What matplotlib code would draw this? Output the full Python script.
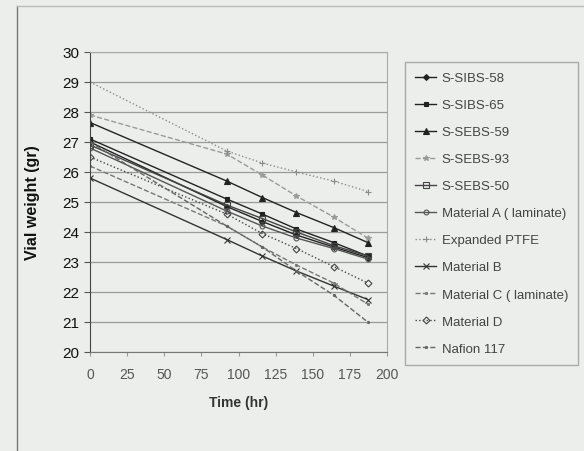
import numpy as np
import matplotlib.pyplot as plt

# time points (hr)
hours = [0, 92, 116, 139, 164, 187]

series_names = ['S-SIBS-58', 'S-SIBS-65', 'S-SEBS-59', 'S-SEBS-93', 'S-SEBS-50',
                'Material A ( laminate)', 'Expanded PTFE', 'Material B',
                'Material C ( laminate)', 'Material D', 'Nafion 117']

# vial weights (gr)
s_sibs_58 = [27.0, 24.85, 24.35, 23.9, 23.5, 23.15]
s_sibs_65 = [27.1, 25.1, 24.6, 24.1, 23.65, 23.2]
s_sebs_59 = [27.65, 25.7, 25.15, 24.65, 24.15, 23.65]
s_sebs_93 = [27.9, 26.6, 25.9, 25.2, 24.5, 23.8]
s_sebs_50 = [26.9, 24.9, 24.45, 24.0, 23.55, 23.2]
material_a = [26.8, 24.7, 24.2, 23.8, 23.45, 23.1]
expanded_ptfe = [29.0, 26.7, 26.3, 26.0, 25.7, 25.35]
material_b = [25.8, 23.75, 23.2, 22.7, 22.2, 21.75]
material_c = [26.2, 24.2, 23.5, 22.9, 22.3, 21.6]
material_d = [26.5, 24.6, 23.95, 23.45, 22.85, 22.3]
nafion_117 = [27.0, 24.2, 23.5, 22.7, 21.9, 21.0]

weights = [s_sibs_58, s_sibs_65, s_sebs_59, s_sebs_93, s_sebs_50, material_a,
           expanded_ptfe, material_b, material_c, material_d, nafion_117]

styles = [
    dict(color='#222222', ls='-', marker='D', ms=3, mfc='#222222'),
    dict(color='#222222', ls='-', marker='s', ms=3.5, mfc='#222222'),
    dict(color='#222222', ls='-', marker='^', ms=4, mfc='#222222'),
    dict(color='#9a9a9a', ls='--', marker='*', ms=4, mfc='#9a9a9a'),
    dict(color='#444444', ls='-', marker='s', ms=4, mfc='none'),
    dict(color='#555555', ls='-', marker='o', ms=3.5, mfc='none'),
    dict(color='#8a8a8a', ls=':', marker='+', ms=4, mfc='#8a8a8a'),
    dict(color='#333333', ls='-', marker='x', ms=4, mfc='#333333'),
    dict(color='#777777', ls='--', marker='.', ms=3, mfc='#777777'),
    dict(color='#444444', ls=':', marker='D', ms=3.5, mfc='none'),
    dict(color='#666666', ls='--', marker='.', ms=3, mfc='#666666'),
]

bg = '#eceeec'
fig = plt.figure(figsize=(5.84, 4.52), dpi=100, facecolor=bg)
plt.rcParams['font.family'] = ['Liberation Sans', 'DejaVu Sans']

# chart area border (partly cut off in the scan)
fig.add_artist(plt.Line2D([17/584, 17/584], [0, 1 - 7/452], transform=fig.transFigure,
                          color='#777777', lw=1))
fig.add_artist(plt.Line2D([17/584, 1], [1 - 7/452, 1 - 7/452], transform=fig.transFigure,
                          color='#bbbbbb', lw=1))

ax = fig.add_axes([90/584, 1 - 353/452, 297/584, 300/452])
ax.set_facecolor(bg)

for w, name, st in zip(weights, series_names, styles):
    ax.plot(hours, w, label=name, lw=1.0, mew=0.8, mec=st['color'], **st)

ax.set_xlim(0, 200)
ax.set_ylim(20, 30)
ax.set_xticks(np.arange(0, 201, 25))
ax.set_yticks(np.arange(20, 31, 1))
ax.grid(axis='y', color='#9a9a9a', lw=0.9)
ax.tick_params(axis='y', labelsize=11, length=4, color='#555555', labelcolor='#111111')
ax.tick_params(axis='x', labelsize=10, length=3, color='#999999', labelcolor='#555555', pad=8)
for side in ['top', 'right']:
    ax.spines[side].set_color('#aaaaaa')
ax.spines['left'].set_color('#444444')
ax.spines['bottom'].set_color('#777777')

ax.set_xlabel('Time (hr)', fontsize=10, fontweight='bold', color='#333333', labelpad=10)
ax.set_ylabel('Vial weight (gr)', fontsize=11.5, fontweight='bold', color='#111111', labelpad=16)

handles, labels = ax.get_legend_handles_labels()
leg = fig.legend(handles, labels, loc='upper left', bbox_to_anchor=(398/584, 1 - 56/452),
                 fontsize=9.5, frameon=True, fancybox=False, labelspacing=1.12,
                 handlelength=1.6, handletextpad=0.4, borderpad=0.8, labelcolor='#444444')
leg.get_frame().set_facecolor(bg)
leg.get_frame().set_edgecolor('#999999')
leg.get_frame().set_linewidth(1.0)

fig.savefig('out.png', dpi=100, facecolor=bg)
